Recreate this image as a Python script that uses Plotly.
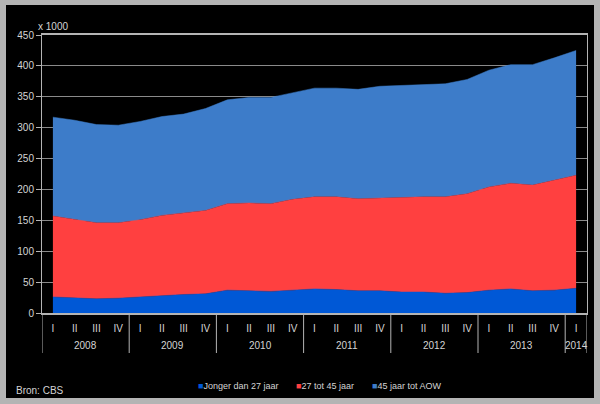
import plotly.graph_objects as go

years = ["2008"] * 4 + ["2009"] * 4 + ["2010"] * 4 + ["2011"] * 4 + ["2012"] * 4 + ["2013"] * 4 + ["2014"]
quarters = ["I", "II", "III", "IV"] * 6 + ["I"]

jonger_27 = [26, 25, 23, 24, 26, 29, 30, 31, 37, 36, 35, 37, 39, 38, 36, 36, 34, 34, 32, 33, 37, 39, 36, 37, 40]
tot_45 = [131, 127, 123, 122, 125, 129, 132, 135, 140, 142, 142, 147, 149, 150, 149, 150, 154, 154, 156, 160, 167, 171, 171, 178, 183]
tot_aow = [160, 160, 159, 158, 159, 160, 160, 165, 168, 171, 172, 172, 176, 176, 177, 181, 180, 182, 183, 185, 189, 192, 195, 198, 202]

series = [
    ("Jonger dan 27 jaar", jonger_27, "#0058D6"),
    ("27 tot 45 jaar", tot_45, "#FF4040"),
    ("45 jaar tot AOW", tot_aow, "#3D7CC9"),
]

FONT = "Liberation Sans, Arial, sans-serif"
TXT = "#d4d4d4"
LINE = "#b4b4b4"

n = len(quarters)
x_idx = list(range(n))

fig = go.Figure()
for name, vals, col in series:
    fig.add_trace(go.Scatter(
        x=x_idx, y=vals, name=name, mode="lines", stackgroup="one",
        line=dict(width=0.5, color=col), fillcolor=col, showlegend=False,
        hoverinfo="skip",
    ))

fig.update_layout(
    width=600, height=404,
    margin=dict(l=42, r=13, t=35, b=91),
    paper_bgcolor="#b4b4b4",
    plot_bgcolor="#000000",
    font=dict(family=FONT, size=10, color=TXT),
    showlegend=False,
)

# black panel inside the grey frame
fig.add_shape(type="rect", xref="paper", yref="paper",
              x0=(6 - 42) / 545, x1=(594 - 42) / 545,
              y0=(313 - 398) / 278, y1=(313 - 5) / 278,
              fillcolor="#000000", line=dict(width=0), layer="below")

fig.update_yaxes(
    range=[0, 450], dtick=50, tick0=0, automargin=False,
    showgrid=True, gridcolor="#8a8a8a", gridwidth=1,
    showline=True, linecolor=LINE, linewidth=1, mirror=True,
    ticks="outside", ticklen=5, tickcolor=LINE,
    tickfont=dict(family=FONT, size=10, color=TXT),
    zeroline=False,
)
fig.update_xaxes(
    automargin=False,
    range=[-0.5, n - 0.5],
    tickmode="array", tickvals=x_idx, ticktext=quarters,
    showgrid=False, zeroline=False,
    showline=True, linecolor=LINE, linewidth=2, mirror=True,
    ticks="", ticklabelstandoff=5,
    tickfont=dict(family=FONT, size=10, color=TXT),
)

# year groups: dividers and labels
groups = []
for i, yr in enumerate(years):
    if not groups or groups[-1][0] != yr:
        groups.append([yr, i, i])
    else:
        groups[-1][2] = i
div_bottom = (313 - 353) / 278
for yr, i0, i1 in groups:
    fig.add_shape(type="line", xref="x", yref="paper",
                  x0=i0 - 0.5, x1=i0 - 0.5, y0=0, y1=div_bottom,
                  line=dict(color=LINE, width=1))
    fig.add_annotation(text=yr, xref="x", yref="paper",
                       x=(i0 + i1) / 2, y=(313 - 345) / 278,
                       xanchor="center", yanchor="middle", showarrow=False,
                       font=dict(family=FONT, size=10, color=TXT))
fig.add_shape(type="line", xref="x", yref="paper",
              x0=n - 0.5, x1=n - 0.5, y0=0, y1=div_bottom,
              line=dict(color=LINE, width=1))

fig.add_annotation(text="x 1000", xref="paper", yref="paper",
                   x=(36 - 42) / 545, y=(313 - 26.5) / 278,
                   xanchor="left", yanchor="middle", showarrow=False,
                   font=dict(family=FONT, size=10, color=TXT))
fig.add_annotation(text="Bron: CBS", xref="paper", yref="paper",
                   x=(14 - 42) / 545, y=(313 - 390) / 278,
                   xanchor="left", yanchor="middle", showarrow=False,
                   font=dict(family=FONT, size=10, color=TXT))

legend_x = [196, 294, 370]
for (name, vals, col), lx in zip(series, legend_x):
    fig.add_annotation(
        text=f'<span style="color:{col}">■</span>{name}',
        xref="paper", yref="paper",
        x=(lx - 42) / 545, y=(313 - 385.5) / 278,
        xanchor="left", yanchor="middle", showarrow=False,
        font=dict(family=FONT, size=9, color=TXT))

fig.write_html("out.html", config={"displayModeBar": False},
               post_script="document.body.style.margin='0';document.body.style.background='#b4b4b4';")
